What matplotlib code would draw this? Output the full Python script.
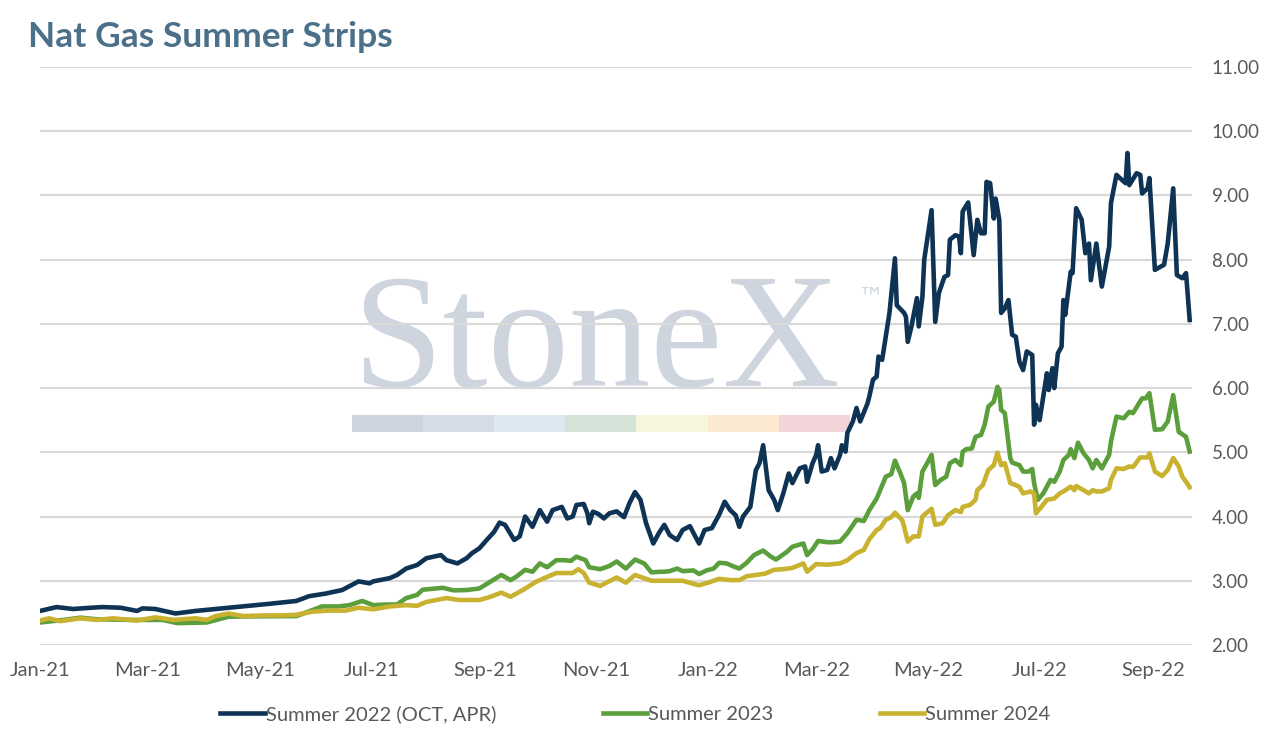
import matplotlib
matplotlib.use('Agg')
import matplotlib.pyplot as plt
import matplotlib.dates as mdates
from matplotlib.patches import Rectangle
import pandas as pd

# days counted from 2021-01-01, values in $/MMBtu
start = pd.Timestamp('2021-01-01')

s22_days = [0, 9, 18, 28, 34, 44, 53, 56, 63, 74, 85, 96, 111, 125, 140, 147, 156, 165, 174, 180,
            182, 191, 195, 200, 206, 211, 219, 222, 228, 233, 236, 240, 244, 248, 251, 254, 259, 262,
            265, 269, 273, 277, 280, 285, 288, 291, 293, 297, 299, 300, 302, 305, 308, 311, 315, 319,
            322, 325, 328, 331, 335, 338, 341, 344, 348, 351, 355, 357, 360, 363, 367, 371, 374, 377,
            380, 382, 384, 388, 391, 393, 395, 398, 401, 403, 406, 409, 411, 415, 418, 419, 422, 424,
            425, 427, 430, 432, 434, 437, 438, 440, 441, 444, 446, 448, 452, 453, 455, 457, 458, 460,
            462, 464, 467, 468, 472, 473, 474, 476, 479, 480, 482, 483, 487, 489, 491, 494, 496, 497,
            500, 502, 503, 504, 507, 510, 512, 514, 516, 517, 519, 521, 522, 524, 525, 527, 529, 531,
            533, 535, 537, 539, 542, 543, 544, 546, 550, 551, 553, 554, 556, 558, 559, 560, 563, 564,
            566, 569, 571, 573, 574, 577, 580, 582, 584, 585, 588, 591, 593, 594, 595, 599, 601, 602,
            605, 606, 609, 614, 616, 619, 621, 624, 626, 628]
s22_vals = [2.53, 2.59, 2.56, 2.58, 2.59, 2.58, 2.53, 2.57, 2.56, 2.49, 2.53, 2.56, 2.60, 2.64, 2.685, 2.76, 2.80, 2.855, 2.99, 2.96,
            2.99, 3.04, 3.09, 3.19, 3.245, 3.35, 3.40, 3.32, 3.27, 3.35, 3.43, 3.505, 3.635, 3.76, 3.905, 3.87, 3.635, 3.69,
            4.00, 3.84, 4.10, 3.92, 4.10, 4.15, 3.97, 4.00, 4.18, 4.195, 4.05, 3.895, 4.075, 4.04, 3.97, 4.05, 4.08, 3.99,
            4.21, 4.38, 4.26, 3.90, 3.58, 3.74, 3.87, 3.71, 3.635, 3.79, 3.85, 3.74, 3.58, 3.79, 3.82, 4.03, 4.23, 4.10,
            4.02, 3.84, 4.00, 4.15, 4.72, 4.83, 5.11, 4.41, 4.26, 4.10, 4.36, 4.67, 4.52, 4.75, 4.78, 4.54, 4.83, 4.96,
            5.11, 4.70, 4.725, 4.91, 4.75, 4.96, 5.11, 5.01, 5.30, 5.48, 5.69, 5.48, 5.76, 5.87, 6.13, 6.18, 6.49, 6.44,
            6.80, 7.17, 8.02, 7.29, 7.17, 7.11, 6.72, 6.96, 7.40, 6.96, 7.42, 8.00, 8.77, 7.03, 7.48, 7.73, 7.76, 8.31,
            8.38, 8.36, 8.10, 8.75, 8.89, 8.07, 8.62, 8.41, 8.41, 9.21, 9.19, 8.64, 8.95, 8.62, 7.17, 7.24, 7.37, 6.83,
            6.80, 6.41, 6.28, 6.57, 6.515, 5.43, 5.74, 5.50, 6.23, 5.97, 6.31, 6.00, 6.54, 6.645, 7.37, 7.14, 7.81, 7.79,
            8.80, 8.62, 8.10, 8.25, 7.68, 8.25, 7.58, 7.89, 8.20, 8.88, 9.32, 9.24, 9.19, 9.66, 9.16, 9.345, 9.32, 9.03,
            9.11, 9.27, 7.84, 7.92, 8.25, 9.11, 7.76, 7.71, 7.79, 7.06]

s23_days = [0, 13, 22, 31, 49, 67, 75, 91, 103, 113, 140, 149, 154, 163, 169, 176, 182, 189, 195, 200,
            206, 209, 220, 226, 233, 240, 246, 252, 257, 260, 265, 269, 273, 277, 282, 286, 290, 293, 298,
            300, 306, 311, 315, 320, 325, 330, 334, 339, 341, 344, 348, 351, 357, 360, 364, 368, 371, 375,
            379, 382, 386, 390, 395, 399, 402, 408, 411, 417, 419, 422, 425, 430, 433, 437, 441, 446, 450,
            453, 457, 462, 465, 467, 470, 472, 474, 477, 479, 480, 482, 484, 487, 489, 492, 495, 497, 500,
            503, 504, 506, 509, 511, 514, 516, 518, 521, 523, 524, 525, 527, 530, 531, 535, 537, 540, 542,
            543, 545, 548, 552, 554, 557, 559, 562, 563, 565, 567, 570, 573, 575, 577, 580, 584, 585, 588,
            592, 595, 597, 602, 604, 606, 609, 613, 616, 619, 622, 626, 628]
s23_vals = [2.35, 2.39, 2.425, 2.40, 2.39, 2.39, 2.34, 2.35, 2.44, 2.445, 2.45, 2.545, 2.60, 2.60, 2.62, 2.685, 2.62, 2.63, 2.63, 2.73,
            2.78, 2.86, 2.89, 2.85, 2.855, 2.88, 2.985, 3.09, 3.01, 3.06, 3.17, 3.14, 3.27, 3.21, 3.32, 3.32, 3.31, 3.375, 3.32,
            3.21, 3.18, 3.23, 3.30, 3.19, 3.33, 3.27, 3.13, 3.14, 3.14, 3.15, 3.19, 3.15, 3.16, 3.105, 3.16, 3.19, 3.28, 3.27,
            3.22, 3.19, 3.28, 3.40, 3.47, 3.38, 3.33, 3.45, 3.53, 3.58, 3.40, 3.49, 3.62, 3.60, 3.60, 3.61, 3.74, 3.95, 3.93,
            4.10, 4.28, 4.62, 4.66, 4.87, 4.67, 4.52, 4.10, 4.31, 4.36, 4.29, 4.70, 4.80, 4.96, 4.49, 4.57, 4.62, 4.83, 4.88,
            4.80, 5.01, 5.05, 5.06, 5.24, 5.27, 5.43, 5.71, 5.79, 6.02, 5.97, 5.66, 5.61, 4.91, 4.84, 4.80, 4.70, 4.70, 4.74,
            4.52, 4.26, 4.36, 4.57, 4.54, 4.70, 4.88, 4.96, 5.05, 4.91, 5.15, 4.985, 4.88, 4.75, 4.88, 4.75, 4.96, 5.17, 5.555,
            5.53, 5.63, 5.61, 5.84, 5.84, 5.92, 5.35, 5.36, 5.48, 5.89, 5.32, 5.24, 5.01]

s24_days = [0, 5, 11, 22, 31, 40, 53, 63, 73, 85, 91, 96, 103, 111, 122, 132, 140, 149, 158, 167,
            174, 182, 191, 200, 206, 211, 222, 229, 240, 246, 252, 257, 264, 271, 277, 282, 288, 291, 294,
            297, 300, 306, 310, 315, 320, 325, 330, 334, 339, 346, 351, 357, 360, 366, 371, 377, 382, 386,
            391, 396, 401, 406, 411, 417, 419, 424, 430, 437, 441, 446, 450, 453, 457, 459, 462, 465, 467,
            471, 472, 474, 477, 480, 482, 484, 487, 489, 493, 496, 500, 503, 504, 508, 511, 512, 515, 518,
            521, 523, 525, 527, 530, 533, 535, 537, 541, 543, 544, 547, 550, 554, 557, 559, 563, 565, 566,
            570, 573, 575, 577, 580, 584, 585, 588, 592, 595, 597, 601, 605, 606, 609, 613, 616, 619, 622,
            624, 626, 628]
s24_vals = [2.38, 2.415, 2.37, 2.415, 2.39, 2.415, 2.38, 2.43, 2.39, 2.415, 2.39, 2.45, 2.49, 2.45, 2.46, 2.46, 2.47, 2.52, 2.535, 2.535,
            2.58, 2.555, 2.60, 2.62, 2.61, 2.67, 2.73, 2.70, 2.70, 2.75, 2.815, 2.75, 2.86, 2.985, 3.06, 3.12, 3.12, 3.12, 3.18,
            3.12, 2.97, 2.92, 2.98, 3.05, 2.97, 3.09, 3.04, 3.00, 3.00, 3.00, 3.00, 2.95, 2.93, 2.98, 3.03, 3.01, 3.01, 3.07,
            3.09, 3.11, 3.17, 3.18, 3.20, 3.27, 3.14, 3.26, 3.25, 3.27, 3.32, 3.43, 3.48, 3.645, 3.79, 3.82, 3.95, 3.99, 4.06,
            3.94, 3.84, 3.61, 3.69, 3.69, 4.00, 4.05, 4.12, 3.87, 3.895, 4.02, 4.10, 4.07, 4.15, 4.18, 4.26, 4.41, 4.49, 4.725,
            4.80, 4.995, 4.80, 4.83, 4.52, 4.49, 4.46, 4.36, 4.39, 4.36, 4.05, 4.15, 4.26, 4.28, 4.36, 4.39, 4.465, 4.41, 4.475,
            4.41, 4.36, 4.41, 4.39, 4.39, 4.44, 4.57, 4.75, 4.74, 4.78, 4.77, 4.92, 4.92, 4.985, 4.70, 4.63, 4.725, 4.91, 4.78,
            4.62, 4.54, 4.455]

series_names = ['Summer 2022 (OCT, APR)', 'Summer 2023', 'Summer 2024']
series_colors = ['#0E3354', '#5B9F3D', '#C8B230']


def to_dates(days):
    return start + pd.to_timedelta(days, unit='D')


fig = plt.figure(figsize=(12.71, 7.34), dpi=100)
ax = fig.add_axes([0.0315, 0.1213, 0.9064, 0.7875])

# watermark behind the grid
ax.text(352 / 1271, 1 - 386 / 734, 'StoneX', transform=fig.transFigure, fontsize=117,
        family='Liberation Serif', color='#CED5DE', ha='left', va='baseline', zorder=0.1)
ax.text(857 / 1271, 1 - 299 / 734, '\u2122', transform=fig.transFigure, fontsize=19,
        family='DejaVu Sans', color='#D0D7DF', ha='left', va='center', zorder=0.1)
bar_cols = ['#CFD5DE', '#D4DDE7', '#DDE9F1', '#D3E3D8', '#F7F6DD', '#FBE9D2', '#F2D5D8']
for i, c in enumerate(bar_cols):
    ax.add_patch(Rectangle((352 / 1271 + i * 71.1 / 1271, 1 - 432 / 734), 71.1 / 1271, 17 / 734,
                           transform=fig.transFigure, facecolor=c, edgecolor='none', zorder=0.1))

for d, v, name, col in zip([s22_days, s23_days, s24_days], [s22_vals, s23_vals, s24_vals],
                           series_names, series_colors):
    ax.plot(to_dates(d), v, color=col, lw=3.3, label=name, zorder=3, solid_joinstyle='round')

ax.set_ylim(2, 11)
ax.set_yticks(range(2, 12))
ax.yaxis.set_major_formatter(matplotlib.ticker.FormatStrFormatter('%.2f'))
ax.set_xlim(start, start + pd.Timedelta(days=629.3))
ax.xaxis.set_major_locator(mdates.MonthLocator(bymonth=[1, 3, 5, 7, 9, 11]))
ax.xaxis.set_major_formatter(mdates.DateFormatter('%b-%y'))

ax.set_axisbelow(True)
ax.grid(axis='y', color='#D9D9D9', lw=1.6)
ax.grid(axis='x', visible=False)
for s in ax.spines.values():
    s.set_visible(False)
ax.yaxis.tick_right()
ax.tick_params(axis='y', length=0, pad=14, labelsize=13.5, labelcolor='#595959')
ax.tick_params(axis='x', length=0, pad=12, labelsize=14.5, labelcolor='#595959')
for lab in ax.get_xticklabels() + ax.get_yticklabels():
    lab.set_family('Lato')
ax.set_facecolor('none')

fig.text(0.022, 0.950, 'Nat Gas Summer Strips', fontsize=25.5, fontweight='bold',
         family='Lato', color='#4B7089', ha='left', va='center')

fig.legend(loc='center', bbox_to_anchor=(0.5, 0.027), ncol=3, frameon=False,
           handlelength=2.2, handletextpad=0.05, columnspacing=5.3,
           prop={'family': 'Lato', 'size': 14.5}, labelcolor='#595959')

fig.savefig('out.png', dpi=100)
